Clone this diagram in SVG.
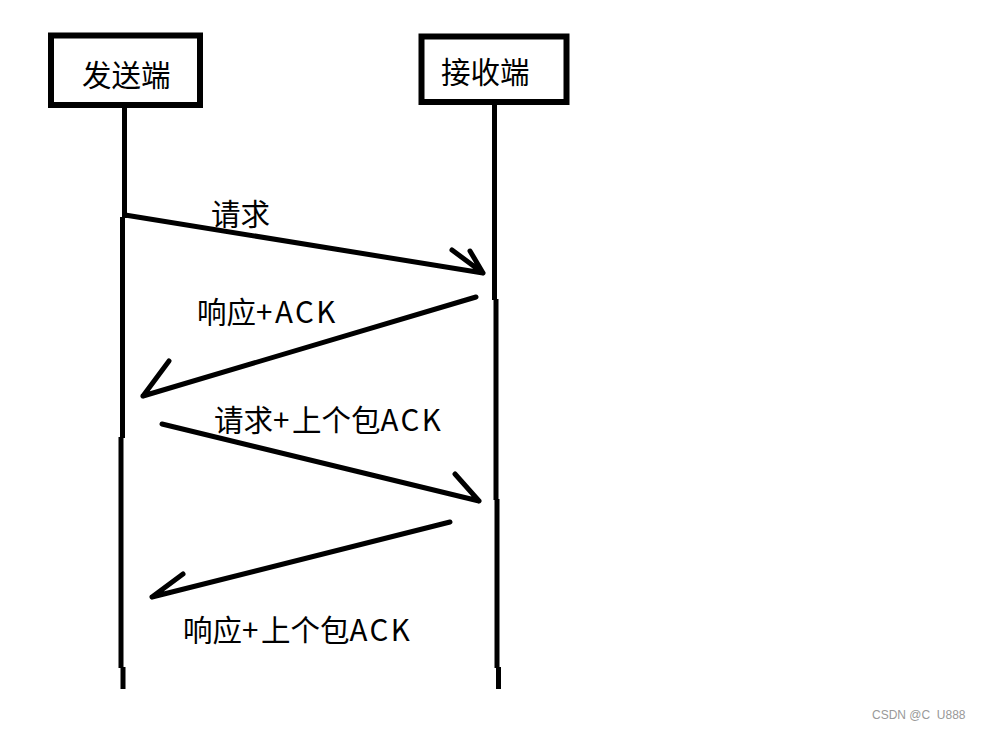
<svg xmlns="http://www.w3.org/2000/svg" width="983" height="729" viewBox="0 0 983 729">
<style>
.box{fill:#fff;stroke:#000;stroke-width:6}
.life{stroke:#000;stroke-width:5;fill:none}
.msg{stroke:#000;stroke-width:5;fill:none;stroke-linecap:round;stroke-linejoin:round}
.t{font-family:"Microsoft YaHei","Noto Sans CJK SC",sans-serif;font-size:29.5px;fill:#000}
.a{letter-spacing:2.5px}
.wm{font-family:"Liberation Sans",Arial,sans-serif;font-size:12px;fill:#999}
</style>
<rect width="983" height="729" fill="#fff"/>
<g id="sender">
<rect class="box" x="51" y="35.5" width="149" height="69.5"/>
<text class="t" x="82" y="86">发送端</text>
<path class="life" d="M124.5 108V218M122.5 217V438M121 437V668M123 667V689"/>
</g>
<g id="receiver">
<rect class="box" x="421.5" y="36.5" width="145" height="65.5"/>
<text class="t" x="441" y="83">接收端</text>
<path class="life" d="M494.5 104V300M496 299V500M497 499V668M498.5 667V689"/>
</g>
<g id="connectors">
<path class="msg" d="M125 215L483 273M452 250L483 273M470 251L483 273"/>
<path class="msg" d="M476 297L143 396M169 361L143 396"/>
<path class="msg" d="M162 424L479 501M455 474L479 501"/>
<path class="msg" d="M450 522L152 597M183 574L152 597"/>
</g>
<g id="labels">
<text class="t" x="211" y="225">请求</text>
<text class="t" x="197" y="323">响应<tspan class="a">+ACK</tspan></text>
<text class="t" x="214" y="431">请求<tspan class="a">+</tspan>上个包<tspan class="a">ACK</tspan></text>
<text class="t" x="183" y="641">响应<tspan class="a">+</tspan>上个包<tspan class="a">ACK</tspan></text>
</g>
<text class="wm" x="872" y="719" xml:space="preserve">CSDN @C  U888</text>
</svg>
